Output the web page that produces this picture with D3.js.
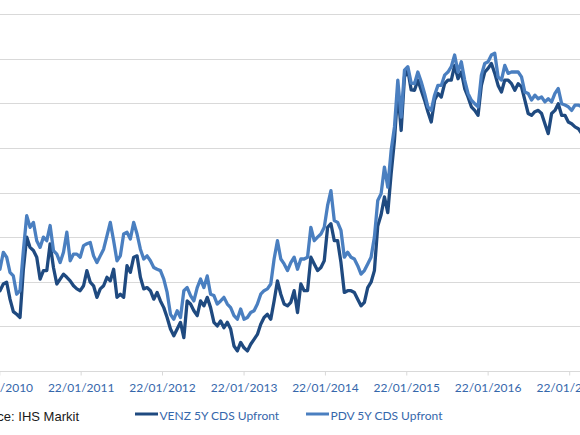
<!DOCTYPE html>
<html>
<head>
<meta charset="utf-8">
<script src="https://cdn.jsdelivr.net/npm/d3@7"></script>
<style>
  html, body { margin: 0; padding: 0; background: #ffffff; }
  svg { display: block; }
</style>
</head>
<body>
<svg id="chart" width="580" height="435"></svg>
<script>
// ---- data ----
const firstDate = "2010-01-25";      // first observation shown
const stepDays = 15;                  // one observation every 15 days
const yearTicks = ["2010-01-22","2011-01-22","2012-01-22","2013-01-22","2014-01-22","2015-01-22","2016-01-22","2017-01-22"];
const seriesNames = ["VENZ 5Y CDS Upfront", "PDV 5Y CDS Upfront"];
const gridValues = [0, 10, 20, 30, 40, 50, 60, 70, 80];
const sourceText = "Source: IHS Markit";

const venz = [
  18.0,19.5,19.9,16.1,13.3,12.7,12.0,22.8,30.0,27.7,
  27.0,25.5,20.6,22.5,22.5,28.5,23.2,19.5,20.6,21.7,
  21.0,20.2,19.1,18.4,18.0,19.1,22.5,19.9,19.1,16.5,
  18.4,19.1,21.0,20.2,22.8,16.5,17.2,16.5,23.6,22.1,
  25.5,25.8,21.0,18.4,18.7,18.0,16.1,17.6,15.7,14.2,
  12.0,9.4,7.9,9.4,10.9,7.5,15.7,15.0,13.5,12.4,
  15.7,14.6,16.5,14.2,10.9,10.1,11.2,9.7,10.9,9.4,
  5.6,4.5,6.4,5.2,4.5,6.0,7.1,8.2,10.5,12.0,
  12.7,11.6,15.7,20.2,17.2,15.0,14.6,15.4,18.0,13.1,
  19.5,18.0,18.0,25.5,24.0,22.5,23.2,24.7,32.2,33.0,
  29.2,29.2,24.3,17.6,18.0,18.0,17.6,16.1,14.6,15.4,
  18.7,19.9,22.5,32.5,35.0,39.0,35.5,44.2,51.7,62.9,
  53.9,65.9,67.4,63.0,62.9,65.2,62.9,60.7,58.1,55.8,
  60.7,62.2,61.4,64.4,65.2,65.2,68.5,65.5,67.0,63.3,
  61.4,59.2,58.4,57.3,64.0,67.0,67.8,68.9,66.7,64.0,
  62.5,65.2,65.2,64.4,62.9,64.4,63.7,60.7,57.7,57.3,
  58.1,58.4,57.7,55.4,53.2,57.7,58.4,59.9,57.3,57.3,
  55.8,55.4,54.7,54.3,53.2
];
const pdv = [
  22.8,26.6,25.5,22.1,21.3,17.2,18.0,27.0,34.8,32.2,
  33.3,29.2,27.7,30.0,29.2,32.6,27.0,26.2,24.3,26.6,
  31.1,24.7,26.2,26.2,25.5,28.1,28.5,28.8,25.8,24.3,
  25.8,27.3,30.3,33.3,29.2,24.7,25.8,30.7,31.1,29.6,
  33.3,30.7,27.3,25.1,25.8,24.7,23.2,22.8,22.5,20.6,
  17.6,12.7,11.6,13.5,12.0,18.0,18.7,16.9,15.7,18.7,
  20.6,18.7,21.3,17.2,16.9,15.0,15.7,16.5,15.0,14.2,
  12.4,11.6,13.9,11.6,12.0,13.1,13.5,15.0,17.2,18.0,
  18.4,19.5,25.1,29.2,25.1,24.0,22.5,24.3,25.5,22.8,
  25.1,25.1,25.5,32.2,29.2,30.0,30.7,32.2,37.1,40.4,
  33.7,33.3,31.5,25.5,26.6,25.5,25.1,23.6,21.7,22.5,
  24.0,25.5,30.0,38.2,39.7,45.7,41.2,49.4,54.7,65.2,
  56.9,67.4,68.2,64.5,64.4,67.0,64.8,62.2,59.2,58.4,
  61.8,64.0,64.0,66.3,67.0,68.2,70.8,67.0,69.3,65.2,
  62.2,60.7,59.9,59.2,66.3,68.9,69.3,70.8,71.2,65.9,
  65.2,68.5,66.7,67.0,67.0,67.0,65.9,62.5,62.2,60.7,
  61.8,61.0,61.4,60.3,61.0,60.3,62.2,63.3,59.9,59.6,
  59.2,58.4,59.6,59.6,59.2
];

// ---- build ----
const parse = d3.timeParse("%Y-%m-%d");
const start = parse(firstDate);
const dates = venz.map((_, i) => d3.timeDay.offset(start, i * stepDays));
const tickDates = yearTicks.map(parse);

const svg = d3.select("#chart");
const W = 580, H = 435;
svg.append("rect").attr("width", W).attr("height", H).attr("fill", "#ffffff");

const x = d3.scaleTime()
  .domain([tickDates[0], tickDates[tickDates.length - 1]])
  .range([-0.7, 569.2]);
const y = d3.scaleLinear().domain([0, 80]).range([371, 14]);

// gridlines
svg.append("g").selectAll("line").data(gridValues.slice(1)).join("line")
  .attr("x1", 0).attr("x2", W)
  .attr("y1", d => Math.round(y(d)) + 0.5).attr("y2", d => Math.round(y(d)) + 0.5)
  .attr("stroke", "#d9d9d9").attr("stroke-width", 1);

// x axis
const xAxis = d3.axisBottom(x)
  .tickValues(tickDates)
  .tickSize(4)
  .tickPadding(8)
  .tickFormat(d3.timeFormat("%d/%m/%Y"));
const gx = svg.append("g").attr("transform", `translate(0,${Math.round(y(0)) + 0.5})`).call(xAxis);
gx.select(".domain").attr("d", `M0,0H${W}`).attr("stroke", "#d9d9d9").attr("stroke-width", 1);
gx.selectAll(".tick line").attr("stroke", "#d9d9d9");
gx.selectAll(".tick text")
  .attr("fill", "#3567ab")
  .style("font-family", "Lato, 'Open Sans', sans-serif")
  .style("font-size", "12px");

// lines
svg.append("clipPath").attr("id", "plotclip")
  .append("rect").attr("x", 0).attr("y", 0).attr("width", W).attr("height", 372);

const colors = ["#1f4a80", "#4a7fc0"];
const line = d3.line().x((d, i) => x(dates[i])).y(d => y(d));
const plot = svg.append("g").attr("clip-path", "url(#plotclip)");
[venz, pdv].forEach((s, k) => {
  plot.append("path").datum(s)
    .attr("d", line)
    .attr("fill", "none")
    .attr("stroke", colors[k])
    .attr("stroke-width", 3.3)
    .attr("stroke-linejoin", "round")
    .attr("stroke-linecap", "round");
});

// legend
const legendX = [135, 306];
const legend = svg.append("g");
seriesNames.forEach((name, k) => {
  legend.append("line")
    .attr("x1", legendX[k]).attr("x2", legendX[k] + 23)
    .attr("y1", 414).attr("y2", 414)
    .attr("stroke", colors[k]).attr("stroke-width", 3);
  legend.append("text")
    .attr("x", legendX[k] + 24.5).attr("y", 420)
    .attr("fill", "#3567ab")
    .style("font-family", "Lato, 'Open Sans', sans-serif")
    .style("font-size", "12px")
    .text(name);
});

// source
svg.append("text")
  .attr("x", 79).attr("y", 421)
  .attr("text-anchor", "end")
  .attr("fill", "#1a1a1a")
  .style("font-family", "'Liberation Sans', Arial, sans-serif")
  .style("font-size", "13px")
  .text(sourceText);
</script>
</body>
</html>
